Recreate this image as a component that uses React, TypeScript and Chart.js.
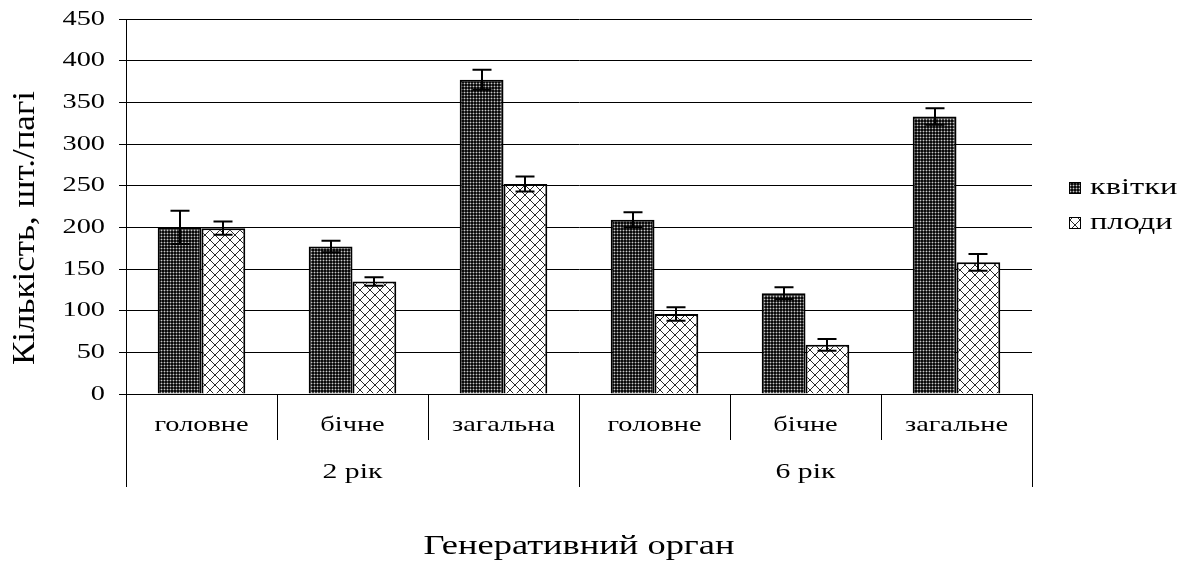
import React, { useEffect, useRef } from 'react';
import { Chart, registerables } from 'chart.js';

Chart.register(...registerables);

// ---- data ----
const categories = ['головне', 'бічне', 'загальна', 'головне', 'бічне', 'загальне'];
const groupLabels = ['2 рік', '6 рік'];
const groupSizes = [3, 3];
const seriesNames = ['квітки', 'плоди'];
const flowers = [200, 177, 377, 209, 121, 333];
const flowersErr = [20, 7, 12, 9, 7, 10];
const fruits = [199, 135, 252, 96, 59, 158];
const fruitsErr = [8, 5, 9, 8, 7, 10];
const yMin = 0;
const yMax = 450;
const yStep = 50;
const yTitle = 'Кількість, шт./пагі';
const xTitle = 'Генеративний орган';

const FONT = "'Liberation Serif', 'Times New Roman', serif";
const SX = 1.35;

function makeDotPattern(ctx: CanvasRenderingContext2D) {
  const c = document.createElement('canvas');
  c.width = 3;
  c.height = 3;
  const g = c.getContext('2d')!;
  g.fillStyle = '#0a0a0a';
  g.fillRect(0, 0, 3, 3);
  g.fillStyle = '#4a4a4a';
  g.fillRect(2, 0, 1, 3);
  g.fillRect(0, 2, 3, 1);
  g.fillStyle = '#c8c8c8';
  g.fillRect(2, 2, 1, 1);
  return ctx.createPattern(c, 'repeat')!;
}

function makeCrossPattern(ctx: CanvasRenderingContext2D) {
  const n = 10;
  const c = document.createElement('canvas');
  c.width = n;
  c.height = n;
  const g = c.getContext('2d')!;
  g.fillStyle = '#fff';
  g.fillRect(0, 0, n, n);
  g.fillStyle = '#2a2a2a';
  for (let i = 0; i < n; i++) {
    g.fillRect(i, i, 1, 1);
    g.fillRect(n - 1 - i, i, 1, 1);
  }
  return ctx.createPattern(c, 'repeat')!;
}

export default function App() {
  const ref = useRef<HTMLCanvasElement>(null);

  useEffect(() => {
    const canvas = ref.current!;
    const ctx = canvas.getContext('2d')!;
    // horizontally widened text rendering (the reference glyphs are stretched)
    const origFill = ctx.fillText.bind(ctx);
    const origMeasure = ctx.measureText.bind(ctx);
    (ctx as any).fillText = (text: string, x: number, y: number) => {
      ctx.save();
      ctx.translate(x, y);
      ctx.scale(SX, 1);
      origFill(text, 0, 0);
      ctx.restore();
    };
    (ctx as any).measureText = (text: string) => {
      const m = origMeasure(text);
      return {
        width: m.width * SX,
        actualBoundingBoxAscent: m.actualBoundingBoxAscent,
        actualBoundingBoxDescent: m.actualBoundingBoxDescent,
        actualBoundingBoxLeft: m.actualBoundingBoxLeft * SX,
        actualBoundingBoxRight: m.actualBoundingBoxRight * SX,
        fontBoundingBoxAscent: m.fontBoundingBoxAscent,
        fontBoundingBoxDescent: m.fontBoundingBoxDescent,
      };
    };

    const dark = makeDotPattern(ctx);
    const light = makeCrossPattern(ctx);
    const errs = [flowersErr, fruitsErr];
    const fills = [dark, light];

    const text = (t: string, x: number, y: number, size: number, align: CanvasTextAlign) => {
      ctx.save();
      ctx.font = `${size}px ${FONT}`;
      ctx.fillStyle = '#000';
      ctx.textAlign = align;
      ctx.textBaseline = 'middle';
      ctx.fillText(t, x, y);
      ctx.restore();
    };

    const plugin = {
      id: 'custom',
      beforeDraw(chart: any) {
        const c = chart.ctx;
        c.save();
        c.fillStyle = '#fff';
        c.fillRect(0, 0, chart.width, chart.height);
        c.restore();
      },
      afterDatasetsDraw(chart: any) {
        const c = chart.ctx as CanvasRenderingContext2D;
        const ys = chart.scales.y;
        c.save();
        c.strokeStyle = '#000';
        c.lineWidth = 2;
        chart.data.datasets.forEach((ds: any, di: number) => {
          const meta = chart.getDatasetMeta(di);
          meta.data.forEach((el: any, i: number) => {
            const v = ds.data[i];
            const e = errs[di][i];
            const x = Math.round(el.x);
            const yt = ys.getPixelForValue(v + e);
            const yb = ys.getPixelForValue(v - e);
            c.beginPath();
            c.moveTo(x, yt);
            c.lineTo(x, yb);
            c.moveTo(x - 9.5, yt);
            c.lineTo(x + 9.5, yt);
            c.moveTo(x - 9.5, yb);
            c.lineTo(x + 9.5, yb);
            c.stroke();
          });
        });
        c.restore();
      },
      afterDraw(chart: any) {
        const c = chart.ctx as CanvasRenderingContext2D;
        const xs = chart.scales.x;
        const area = chart.chartArea;
        const n = categories.length;
        const bounds: number[] = [];
        for (let i = 0; i <= n; i++) {
          if (i === 0) bounds.push(area.left);
          else if (i === n) bounds.push(area.right);
          else bounds.push((xs.getPixelForValue(i - 1) + xs.getPixelForValue(i)) / 2);
        }
        const outerIdx = [0];
        let acc = 0;
        groupSizes.forEach((s) => {
          acc += s;
          outerIdx.push(acc);
        });
        c.save();
        c.strokeStyle = '#000';
        c.lineWidth = 1;
        c.beginPath();
        bounds.forEach((bx, i) => {
          const outer = outerIdx.includes(i);
          const x = Math.round(bx) + 0.5;
          c.moveTo(x, area.bottom);
          c.lineTo(x, area.bottom + (outer ? 93 : 46));
        });
        c.stroke();
        c.restore();

        groupLabels.forEach((g, gi) => {
          const cx = (bounds[outerIdx[gi]] + bounds[outerIdx[gi + 1]]) / 2;
          text(g, cx, area.bottom + 78, 22, 'center');
        });

        text(xTitle, (area.left + area.right) / 2, 547, 27, 'center');

        // rotated y title (condensed along reading direction)
        c.save();
        c.font = `35px ${FONT}`;
        c.fillStyle = '#000';
        c.textAlign = 'center';
        c.textBaseline = 'middle';
        c.translate(25, 228);
        c.scale(0.93, 1);
        c.rotate(-Math.PI / 2);
        origFill(yTitle, 0, 0);
        c.restore();

        // legend
        const ly = [188, 223];
        seriesNames.forEach((name, i) => {
          c.save();
          c.fillStyle = fills[i];
          c.fillRect(1069, ly[i] - 6, 12, 12);
          c.strokeStyle = '#000';
          c.lineWidth = 1;
          c.strokeRect(1069.5, ly[i] - 5.5, 11, 11);
          c.restore();
          text(name, 1090, ly[i], 24, 'left');
        });
      },
    };

    const chart = new Chart(canvas, {
      type: 'bar',
      data: {
        labels: categories,
        datasets: [
          {
            label: seriesNames[0],
            data: flowers,
            backgroundColor: dark,
            borderColor: '#000',
            borderWidth: 2,
            categoryPercentage: 0.58,
            barPercentage: 1,
          },
          {
            label: seriesNames[1],
            data: fruits,
            backgroundColor: light,
            borderColor: '#000',
            borderWidth: 2,
            categoryPercentage: 0.58,
            barPercentage: 1,
          },
        ],
      },
      options: {
        animation: false,
        responsive: false,
        layout: { padding: { top: 19, right: 156, left: 0, bottom: 0 } },
        plugins: { legend: { display: false }, tooltip: { enabled: false } },
        scales: {
          x: {
            offset: true,
            grid: { display: false },
            border: { display: true, color: '#000', width: 1 },
            ticks: {
              color: '#000',
              font: { family: FONT, size: 21 },
              padding: 11,
              maxRotation: 0,
              autoSkip: false,
            },
            afterFit: (s: any) => {
              s.height = 167;
              s.paddingLeft = 0;
              s.paddingRight = 0;
            },
          },
          y: {
            min: yMin,
            max: yMax,
            ticks: {
              stepSize: yStep,
              color: '#000',
              font: { family: FONT, size: 21 },
              padding: 14,
            },
            grid: { color: '#000', lineWidth: 1, tickLength: 7 },
            border: { display: true, color: '#000', width: 1 },
            afterFit: (s: any) => {
              s.width = 126;
              s.paddingTop = 0;
              s.paddingBottom = 0;
            },
          },
        },
      },
      plugins: [plugin],
    } as any);

    return () => chart.destroy();
  }, []);

  return (
    <div style={{ position: 'absolute', left: 0, top: 0, width: 1188, height: 561, background: '#fff' }}>
      <canvas ref={ref} width={1188} height={561} style={{ display: 'block' }} />
    </div>
  );
}
